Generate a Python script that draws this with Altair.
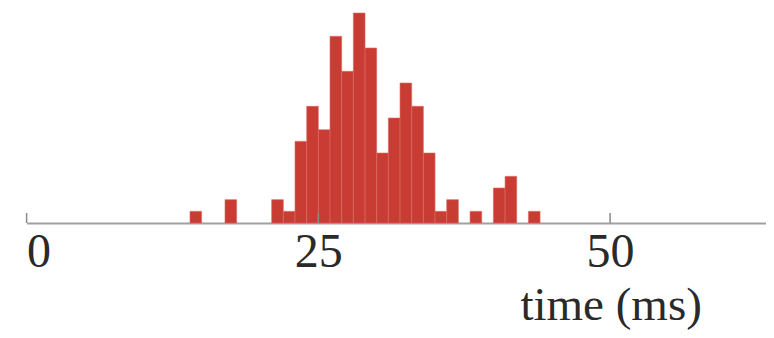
import altair as alt
import pandas as pd

# histogram bins (1 ms wide), left edges in ms and counts
bin_start = [14, 17, 21, 22, 23, 24, 25, 26, 27, 28, 29, 30, 31, 32, 33, 34, 35, 36, 38, 40, 41, 43]
counts    = [1,  2,  2,  1,  7,  10, 8,  16, 13, 18, 15, 6,  9,  12, 10, 6,  1,  2,  1,  3,  4,  1]
tick_values = [0, 25, 50]

bars_df = pd.DataFrame({"start": bin_start, "count": counts})
ticks_df = pd.DataFrame({"t": tick_values})

W, H = 739.4, 210
FONT = "Liberation Serif"

xscale = alt.Scale(domain=[0, 63.36], nice=False, zero=False)
yscale = alt.Scale(domain=[0, 18], nice=False)

bars = alt.Chart(bars_df).transform_calculate(
    end="datum.start + 1", base="0"
).mark_bar(color="#c93c33", stroke="#dc6a62", strokeWidth=0.6).encode(
    x=alt.X("start:Q", scale=xscale,
            axis=alt.Axis(values=tick_values, tickSize=0, labelPadding=5,
                          labelFontSize=48, labelFont=FONT, labelColor="#2a2a2a",
                          domainColor="#a0a0a0", domainWidth=2, grid=False,
                          title="time (ms)", titleFont=FONT, titleFontSize=47,
                          titleFontWeight="normal", titleColor="#2a2a2a",
                          titleX=584, titleY=96, titleAlign="center",
                          titleBaseline="alphabetic")),
    x2="end:Q",
    y=alt.Y("count:Q", scale=yscale, axis=None),
    y2="base:Q",
)

ticks = alt.Chart(ticks_df).mark_rule(color="#8a8a8a", strokeWidth=1.5).encode(
    x=alt.X("t:Q", scale=xscale),
    y=alt.value(H - 10),
    y2=alt.value(H),
)

chart = alt.layer(bars, ticks).properties(
    width=W, height=H,
    autosize=alt.AutoSizeParams(type="none"),
    padding={"left": 18.6, "top": 5, "right": 0, "bottom": 107},
).configure_view(stroke=None)

chart.save("out.html", embed_options={"renderer": "svg", "actions": False})
